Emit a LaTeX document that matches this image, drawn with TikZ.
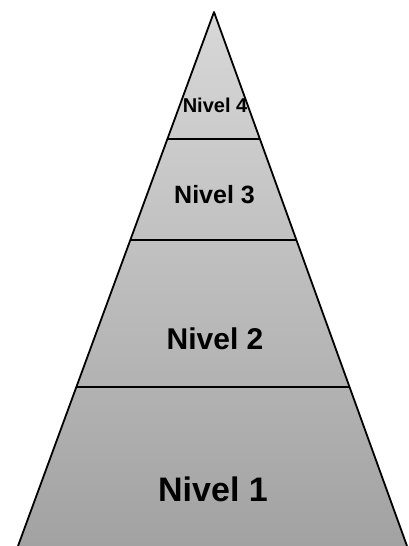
\documentclass[tikz,border=0pt]{standalone}
\usepackage{fontspec}
\setmainfont{Liberation Sans}
\usetikzlibrary{calc}
\begin{document}
\begin{tikzpicture}[x=1pt,y=-1pt,
  divider/.style={line width=1.4pt, draw=black},
  outline/.style={line width=1.8pt, draw=black, line join=round},
  lvl/.style={font=\bfseries, text=black, inner sep=0pt, anchor=center}]
\useasboundingbox (0,0) rectangle (409,546);
\definecolor{topgray}{RGB}{216,216,216}
\definecolor{botgray}{RGB}{162,162,162}
\coordinate (apex) at (214,12);
\coordinate (bl) at (18,546);
\coordinate (br) at (407,546);
\shade[top color=topgray, bottom color=botgray] (apex) -- (bl) -- (br) -- cycle;
\coordinate (l3) at ($(apex)!0.2378!(bl)$);
\coordinate (r3) at ($(apex)!0.2378!(br)$);
\coordinate (l2) at ($(apex)!0.4270!(bl)$);
\coordinate (r2) at ($(apex)!0.4270!(br)$);
\coordinate (l1) at ($(apex)!0.7022!(bl)$);
\coordinate (r1) at ($(apex)!0.7022!(br)$);
\draw[divider] (l3) -- (r3);
\draw[divider] (l2) -- (r2);
\draw[divider] (l1) -- (r1);
\draw[outline] (bl) -- (apex) -- (br);
\node[lvl, font=\fontsize{20}{24}\selectfont\bfseries] (n4) at (215,105) {Nivel 4};
\node[lvl, font=\fontsize{25}{30}\selectfont\bfseries] (n3) at (214.5,195) {Nivel 3};
\node[lvl, font=\fontsize{30}{36}\selectfont\bfseries] (n2) at (215,339) {Nivel 2};
\node[lvl, font=\fontsize{34}{40}\selectfont\bfseries] (n1) at (213,489) {Nivel 1};
\end{tikzpicture}
\end{document}
